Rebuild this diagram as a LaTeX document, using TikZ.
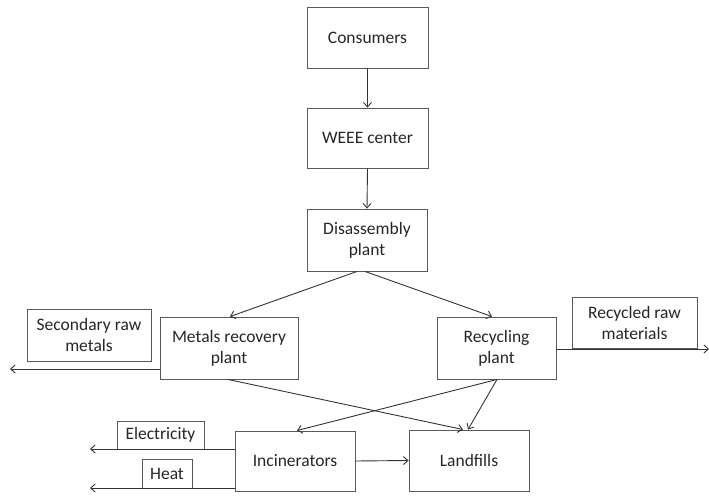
\documentclass[tikz,border=0pt]{standalone}
\usepackage{fontspec}
\setmainfont{Carlito}
\usetikzlibrary{arrows.meta,calc}
\begin{document}
\begin{tikzpicture}[x=1pt,y=-1pt,
  box/.style={draw=black!65,line width=0.9pt,fill=white,inner sep=0pt,align=center,
    font=\fontsize{17.5}{21}\selectfont,text=black!85},
  conn/.style={draw=black!80,line width=0.9pt,-{Straight Barb[length=4.5pt,width=8pt]}},
  plain/.style={draw=black!65,line width=0.9pt}]
\useasboundingbox (0,0) rectangle (709,497);
\node[box,minimum width=121pt,minimum height=61pt] (cons) at (367.5,37.5) {Consumers};
\node[box,minimum width=121pt,minimum height=60pt] (weee) at (367.5,138) {WEEE center};
\node[box,minimum width=120pt,minimum height=62pt] (dis) at (367,240) {Disassembly\\plant};
\node[box,minimum width=138pt,minimum height=62pt] (metals) at (229,348) {Metals recovery\\plant};
\node[box,minimum width=119pt,minimum height=62pt] (recyc) at (496.5,348) {Recycling\\plant};
\node[box,minimum width=124pt,minimum height=52pt] (srm) at (89,335) {Secondary raw\\metals};
\node[box,minimum width=125pt,minimum height=51pt] (rrm) at (634.5,322.5) {Recycled raw\\materials};
\node[box,minimum width=87pt,minimum height=28pt] (elec) at (160.5,435) {Electricity};
\node[box,minimum width=50pt,minimum height=29pt] (heat) at (167,473.5) {Heat};
\node[box,minimum width=120pt,minimum height=60pt] (inc) at (295,461) {Incinerators};
\node[box,minimum width=120pt,minimum height=61pt] (land) at (469,460.5) {Landfills};
\coordinate (srmend) at (10,369);
\coordinate (rrmend) at (709,349);
\coordinate (elecend) at (90,449);
\coordinate (heatend) at (90,488);
\draw[conn] (cons.south) -- (weee.north);
\draw[conn] (weee.south) -- (dis.north);
\draw[conn] ($(dis.south)+(-10,0)$) -- ($(metals.north)+(1,0)$);
\draw[conn] ($(dis.south)+(-2,0)$) -- ($(recyc.north)+(-4.5,0)$);
\draw[conn] ($(metals.south)+(-1,0)$) -- ($(land.north)+(-6,0)$);
\draw[conn] ($(recyc.south)+(0.5,0)$) -- ($(inc.north)+(2,0)$);
\draw[conn] ($(recyc.south)+(0.5,0)$) -- ($(land.north)+(-1,0)$);
\draw[conn] (inc.east) -- (land.west);
\draw[conn] ($(metals.west)+(0,21)$) -- (srmend);
\draw[conn] ($(recyc.east)+(0,1)$) -- (rrmend);
\draw[conn] ($(inc.west)+(0,-12)$) -- (elecend);
\draw[conn] ($(inc.west)+(0,27)$) -- (heatend);
\end{tikzpicture}
\end{document}
